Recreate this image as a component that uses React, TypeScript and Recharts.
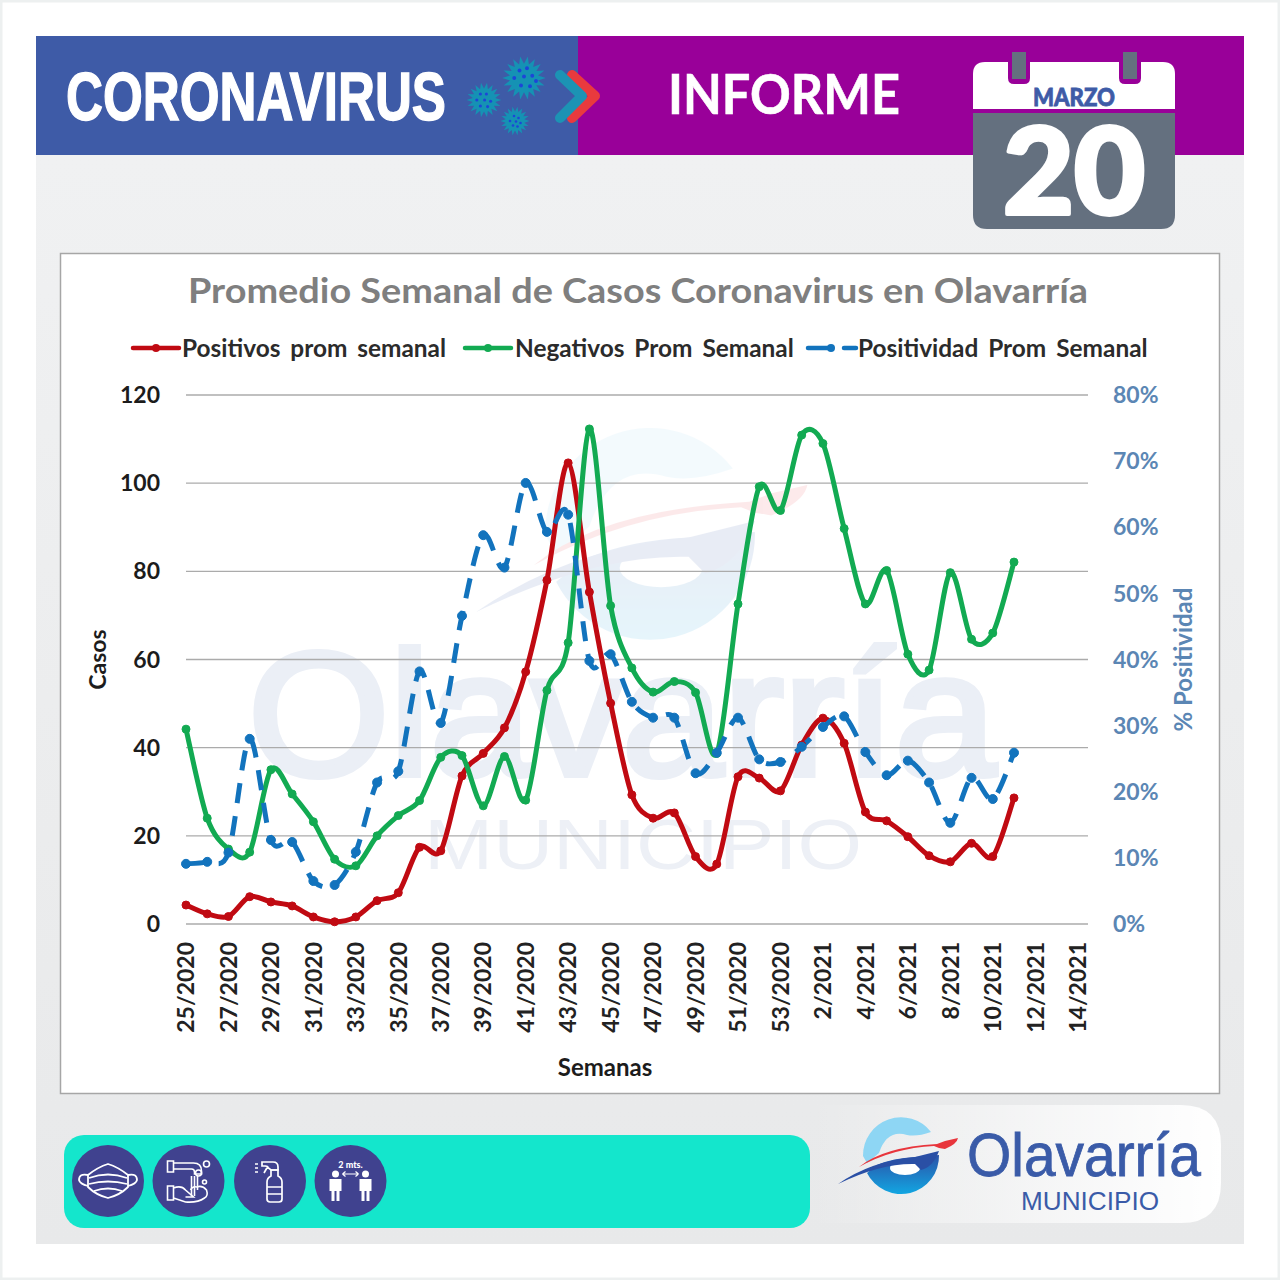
import React from 'react';
import { ComposedChart, Line, XAxis, YAxis, CartesianGrid, Legend } from 'recharts';

const weeks = [
  '25/2020','26/2020','27/2020','28/2020','29/2020','30/2020','31/2020','32/2020','33/2020','34/2020',
  '35/2020','36/2020','37/2020','38/2020','39/2020','40/2020','41/2020','42/2020','43/2020','44/2020',
  '45/2020','46/2020','47/2020','48/2020','49/2020','50/2020','51/2020','52/2020','53/2020','1/2021',
  '2/2021','3/2021','4/2021','5/2021','6/2021','7/2021','8/2021','9/2021','10/2021','11/2021',
  '12/2021','13/2021','14/2021',
];
const positivos = [4.3,2.3,1.7,6.2,5,4.1,1.6,0.5,1.6,5.3,7.1,17.4,16.6,33.6,38.7,44.5,57.2,78,104.6,75.3,50.1,29.3,24,25.2,15.3,13.6,33.4,33.1,30.2,40.6,46.7,41,25.4,23.4,19.8,15.5,14.1,18.3,15.3,28.6];
const negativos = [44.2,24,17,16.3,35,29.5,23.2,14.7,13.2,20,24.6,28,37.8,38.2,26.8,38,28.1,53,63.8,112.3,72.2,58.1,52.6,55,52.5,38.7,72.6,99.2,93.8,110.9,109,89.7,72.6,80.2,61.2,57.6,79.7,64.6,66,82.1];
const positividad = [9.1,9.4,10.8,28,12.7,12.4,6.5,5.9,10.9,21.4,23.1,38.2,30.4,46.6,58.8,53.9,66.7,59.3,61.9,39.8,40.8,33.6,31.2,31.2,22.8,25.9,31.2,24.9,24.5,26.8,29.8,31.4,26,22.5,24.7,21.4,15.3,22.1,18.9,25.9];
const casosTicks = [0,20,40,60,80,100,120];
const pctTicks = [0,10,20,30,40,50,60,70,80];

const rows = weeks.map((week, i) => ({ week, positivos: positivos[i], negativos: negativos[i], positividad: positividad[i] }));

const RED = '#c00a12';
const GREEN = '#12aa52';
const BLUE = '#1273bd';
const AXIS_BLUE = '#5b86b4';
const FONT = 'Lato, "Open Sans", sans-serif';

// Excel-style smoothed line (Catmull-Rom through every point).
function excelSmooth(context: any) {
  let pts: number[][] = [];
  const k = 6.5;
  return {
    areaStart() {},
    areaEnd() {},
    lineStart() { pts = []; },
    point(x: number, y: number) { pts.push([+x, +y]); },
    lineEnd() {
      if (!pts.length) return;
      context.moveTo(pts[0][0], pts[0][1]);
      for (let i = 0; i < pts.length - 1; i++) {
        const p0 = pts[Math.max(0, i - 1)], p1 = pts[i], p2 = pts[i + 1], p3 = pts[Math.min(pts.length - 1, i + 2)];
        context.bezierCurveTo(
          p1[0] + (p2[0] - p0[0]) / k, p1[1] + (p2[1] - p0[1]) / k,
          p2[0] - (p3[0] - p1[0]) / k, p2[1] - (p3[1] - p1[1]) / k,
          p2[0], p2[1]);
      }
    },
  };
}

const legendX = [[73, 122], [405, 455], [748, 798]];
function LegendContent({ payload }: any) {
  return (
    <div style={{ position: 'relative', height: 0 }}>
      {(payload || []).map((e: any, i: number) => (
        <React.Fragment key={e.value}>
          <svg style={{ position: 'absolute', left: legendX[i][0], top: -8, overflow: 'visible' }} width={50} height={16}>
            <line x1={0} x2={i === 2 ? 48 : 46} y1={8} y2={8} stroke={e.color} strokeWidth={4.5} strokeLinecap="round" strokeDasharray={i === 2 ? '24 12 12 30' : undefined} />
            <circle cx={23} cy={8} r={4} fill={e.color} />
          </svg>
          <span style={{ position: 'absolute', left: legendX[i][1], top: -16, whiteSpace: 'nowrap', fontFamily: FONT, fontSize: 24.4, fontWeight: 700, lineHeight: '32px', color: '#2b2b2b', wordSpacing: 4 }}>{e.value}</span>
        </React.Fragment>
      ))}
    </div>
  );
}

function XTick({ x, y, payload }: any) {
  return (
    <text x={x} y={y} dy="0.36em" textAnchor="end" transform={`rotate(-90 ${x} ${y})`} fontFamily={FONT} fontWeight={700} fontSize={23} fill="#222">
      {payload.value}
    </text>
  );
}

function Virus({ cx, cy, r, dots }: { cx: number; cy: number; r: number; dots: number[][] }) {
  const n = 18;
  const points: string[] = [];
  for (let i = 0; i < n * 2; i++) {
    const a = (Math.PI * i) / n;
    const rr = i % 2 ? r * 0.95 : r * 1.45;
    points.push(`${cx + rr * Math.cos(a)},${cy + rr * Math.sin(a)}`);
  }
  return (
    <g>
      <polygon points={points.join(' ')} fill="#1592b4" />
      {dots.map((d, i) => <circle key={i} cx={cx + d[0] * r} cy={cy + d[1] * r} r={r * 0.13} fill="#1c46d8" />)}
    </g>
  );
}

function LogoMark({ idp }: { idp: string }) {
  return (
    <g>
      <defs>
        <linearGradient id={idp + 'b'} x1="0" y1="0" x2="0" y2="1">
          <stop offset="0" stopColor="#2b52a8" />
          <stop offset="1" stopColor="#12a6e2" />
        </linearGradient>
      </defs>
      <path d="M-38,1 A38,38 0 0 1 30,-23 Q16,-18 6,-20 Q-14,-26 -22,-2 L-34,8 Z" fill="#8ed6f4" />
      <path d="M-24,10 Q-8,3 14,2 L38,0 A38,38 0 0 1 -34,18 Z" fill={`url(#${idp}b)`} />
      <ellipse cx="4" cy="13" rx="15" ry="7" fill="#fff" />
      <path d="M-63,29 Q-30,6 14,2 L38,-4 Q32,12 20,15 L14,9 Q-20,8 -63,29 Z" fill="#2a4fa5" />
      <path d="M-42,12 Q-18,-8 36,-11 L44,-14 L57,-17 Q56,-11 44,-6 L38,-7 L33,-9 Q-8,-7 -42,12 Z" fill="#e8353c" />
    </g>
  );
}

function Decor() {
  return (
    <svg width={1280} height={1280} style={{ position: 'absolute', left: 0, top: 0 }}>
      <defs>
        <linearGradient id="panel" x1="0" y1="0" x2="0" y2="1">
          <stop offset="0" stopColor="#f0f1f2" />
          <stop offset="1" stopColor="#e8e9ea" />
        </linearGradient>
        <linearGradient id="whitePanel" x1="0" y1="0" x2="1" y2="0">
          <stop offset="0" stopColor="#ffffff" stopOpacity={0} />
          <stop offset="0.6" stopColor="#ffffff" stopOpacity={0.6} />
          <stop offset="1" stopColor="#ffffff" />
        </linearGradient>
      </defs>
      <rect x={1} y={1} width={1278} height={1278} fill="#fff" stroke="#edf0f0" strokeWidth={3} />
      <rect x={36} y={155} width={1208} height={1089} fill="url(#panel)" />
      <rect x={36} y={36} width={542} height={119} fill="#3e5ba7" />
      <rect x={578} y={36} width={666} height={119} fill="#990099" />
      <text x={66} y={120} fill="#fff" stroke="#fff" strokeWidth={1.4} fontFamily='"Liberation Sans Narrow", "Liberation Sans", sans-serif' fontWeight={700} fontSize={68} textLength={380} lengthAdjust="spacingAndGlyphs">CORONAVIRUS</text>

      <Virus cx={524} cy={78} r={15} dots={[[-0.3,-0.5],[0.2,-0.65],[-0.65,0],[0,-0.1],[0.55,-0.15],[0.8,0.2],[-0.2,0.5],[0.4,0.55]]} />
      <Virus cx={484} cy={100} r={12} dots={[[-0.3,-0.5],[0.2,-0.5],[-0.6,0],[0.05,0],[0.55,0.1],[-0.3,0.5],[0.3,0.55]]} />
      <Virus cx={515} cy={121} r={10} dots={[[-0.1,-0.5],[0.35,-0.3],[-0.5,0],[0.1,0.05],[0.55,0.2],[-0.2,0.45],[0.25,0.55]]} />
      <path d="M572,75 L595,96 L572,118" fill="none" stroke="#e93a3e" strokeWidth={10} strokeLinecap="round" strokeLinejoin="round" />
      <path d="M560,75 L582,96 L560,118" fill="none" stroke="#1c93b4" strokeWidth={10} strokeLinecap="round" strokeLinejoin="round" />

      <text x={668} y={114} fill="#fff" stroke="#fff" strokeWidth={0.6} fontFamily='Lato, sans-serif' fontWeight={700} fontSize={55} textLength={232} lengthAdjust="spacingAndGlyphs">INFORME</text>

      <path d="M973,109 V74 Q973,62 985,62 H1163 Q1175,62 1175,74 V109 Z" fill="#fff" />
      <path d="M973,113 H1175 V215 Q1175,229 1161,229 H987 Q973,229 973,215 Z" fill="#64707f" />
      <path d="M1008,62 V78 Q1008,84 1014,84 H1024 Q1030,84 1030,78 V62 Z" fill="#990099" />
      <path d="M1119,62 V78 Q1119,84 1125,84 H1135 Q1141,84 1141,78 V62 Z" fill="#990099" />
      <rect x={1012} y={52} width={14} height={27} fill="#64707f" />
      <rect x={1123} y={52} width={14} height={27} fill="#64707f" />
      <text x={1003} y={214} fill="#fff" stroke="#fff" strokeWidth={4} strokeLinejoin="round" fontFamily='Lato, sans-serif' fontWeight={900} fontSize={120} textLength={142} lengthAdjust="spacingAndGlyphs">20</text>
      <text x={1033} y={106} fill="#3e5ba7" stroke="#3e5ba7" strokeWidth={0.8} fontFamily='Lato, sans-serif' fontWeight={900} fontSize={25} textLength={82} lengthAdjust="spacingAndGlyphs">MARZO</text>

      {/* chart frame + watermark */}
      <rect x={60.5} y={253.5} width={1159} height={840} fill="#fff" stroke="#a6a6a6" strokeWidth={1.5} />
      <g opacity={0.1} transform="translate(650 532) scale(2.76)"><LogoMark idp="wm" /></g>
      <text x={248} y={775} fill="#ebeff6" stroke="#ebeff6" strokeWidth={6} fontFamily='"Liberation Sans", sans-serif' fontSize={176} textLength={748} lengthAdjust="spacingAndGlyphs">Olavarría</text>
      <text x={424} y={869} fill="#edf0f6" fontFamily='"Liberation Sans", sans-serif' fontSize={70} textLength={438} lengthAdjust="spacingAndGlyphs">MUNICIPIO</text>

      <text x={188} y={303} fill="#7f7f7f" fontFamily={FONT} fontWeight={700} fontSize={35} textLength={900} lengthAdjust="spacingAndGlyphs">Promedio Semanal de Casos Coronavirus en Olavarría</text>

      {/* bottom strip */}
      <path d="M840,1105 H1181 Q1221,1105 1221,1145 V1183 Q1221,1223 1181,1223 H810 V1105 Z" fill="url(#whitePanel)" />
      <rect x={64} y={1135} width={746} height={93} rx={20} fill="#14e6cc" />
      {[108, 188.5, 270, 350.5].map((cx) => <circle key={cx} cx={cx} cy={1181} r={36} fill="#40428f" />)}

      <g transform="translate(108 1181)" fill="none" stroke="#fff" strokeWidth={1.8}>
        <path d="M-20,-6 Q-10,-14 0,-17 Q10,-14 20,-6 L20,6 Q12,14 0,17 Q-12,14 -20,6 Z" />
        <path d="M-19,-3 Q0,-10 19,-3 M-19,3 Q0,-2 19,3 M-14,10 Q0,5 14,10" />
        <path d="M-20,-6 Q-29,-8 -29,-1 Q-28,3 -20,5 M20,-6 Q29,-8 29,-1 Q28,3 20,5" />
      </g>
      <g transform="translate(188.5 1181)" fill="none" stroke="#fff" strokeWidth={1.6}>
        <path d="M-21,-20 h6 v11 h-6z M-15,-18 h20 q8,0 8,8 v3 h-7 v-2 q0,-3 -3,-3 h-18" />
        <path d="M3,-5 v20 M6,-5 v20 M9,-5 v14" />
        <circle cx={18} cy={-17} r={3} /><circle cx={10} cy={-8} r={3} /><circle cx={16} cy={1} r={2} />
        <path d="M-21,5 h6 v14 h-6z M-15,7 q8,-3 12,2 l8,7 h-8 M-15,17 l12,4 q12,1 19,-4 q4,-2 2,-8 q-4,-5 -10,-3 q-4,-1 -6,3" />
      </g>
      <g transform="translate(270 1181)" fill="none" stroke="#fff" strokeWidth={1.7}>
        <path d="M-3,1 q0,-4 4,-6 v-6 h7 v6 q4,2 4,6 v17 q0,3 -3,3 h-9 q-3,0 -3,-3 Z M-3,6 h15 M-3,13 h15" />
        <path d="M-8,-19 h11 q5,0 5,5 v3 h-7 l-5,-4 h-4 Z M-2,-15 l-4,7" />
        <path d="M-15,-17 h3 M-15,-13 h3 M-15,-9 h3" />
      </g>
      <g transform="translate(350.5 1181)" fill="#fff">
        <text x={0} y={-13} textAnchor="middle" fontFamily="Lato, sans-serif" fontWeight={900} fontSize={9}>2 mts.</text>
        <circle cx={-15} cy={-7} r={3.5} /><circle cx={15} cy={-7} r={3.5} />
        <path d="M-21,-2 h12 v12 h-2 v10 h-3 v-10 h-2 v10 h-3 v-10 h-2 Z M9,-2 h12 v12 h-2 v10 h-3 v-10 h-2 v10 h-3 v-10 h-2 Z" />
        <path d="M-8,-7 H8 M-8,-7 l3,-2.5 M-8,-7 l3,2.5 M8,-7 l-3,-2.5 M8,-7 l-3,2.5" stroke="#fff" fill="none" strokeWidth={1.2} />
      </g>

      <g transform="translate(901 1155)"><LogoMark idp="lg" /></g>
      <text x={967} y={1176} fill="#3a5ba8" stroke="#3a5ba8" strokeWidth={0.8} fontFamily='"Liberation Sans", sans-serif' fontSize={62} textLength={234} lengthAdjust="spacingAndGlyphs">Olavarría</text>
      <text x={1021} y={1210} fill="#3a5ba8" fontFamily='"Liberation Sans", sans-serif' fontSize={26} textLength={138} lengthAdjust="spacingAndGlyphs">MUNICIPIO</text>
    </svg>
  );
}

const leftTick = { fill: '#1c1c1c', fontFamily: FONT, fontWeight: 700, fontSize: 23 };
const rightTick = { fill: AXIS_BLUE, fontFamily: FONT, fontWeight: 700, fontSize: 23 };

export default function App() {
  return (
    <div style={{ position: 'absolute', left: 0, top: 0, width: 1280, height: 1280, overflow: 'hidden' }}>
      <Decor />
      <div style={{ position: 'absolute', left: 60, top: 253 }}>
        <ComposedChart width={1160} height={841} data={rows} margin={{ top: 142, right: 72, bottom: 60, left: 66 }}>
          <CartesianGrid horizontal vertical={false} stroke="#ababab" strokeWidth={1.3} yAxisId="casos" />
          <XAxis
            dataKey="week"
            interval={1}
            height={110}
            padding={{ left: 0, right: 10.3 }}
            axisLine={false}
            tickLine={false}
            tickSize={0}
            tickMargin={18}
            tick={<XTick />}
            label={{ value: 'Semanas', position: 'insideBottom', offset: -42, dx: -32, style: { fontFamily: FONT, fontWeight: 700, fontSize: 24, fill: '#1c1c1c' } }}
          />
          <YAxis
            yAxisId="casos"
            domain={[0, 120]}
            ticks={casosTicks}
            width={60}
            axisLine={false}
            tickLine={false}
            tickSize={0}
            tickMargin={26}
            tick={leftTick}
            label={{ value: 'Casos', angle: -90, position: 'insideLeft', dx: -33, style: { textAnchor: 'middle', fontFamily: FONT, fontWeight: 700, fontSize: 23, fill: '#1c1c1c' } }}
          />
          <YAxis
            yAxisId="pct"
            orientation="right"
            domain={[0, 80]}
            ticks={pctTicks}
            width={60}
            axisLine={false}
            tickLine={false}
            tickSize={0}
            tickMargin={25}
            tick={rightTick}
            tickFormatter={(v: number) => `${v}%`}
            label={{ value: '% Positividad', angle: -90, position: 'insideRight', dx: 40, style: { textAnchor: 'middle', fontFamily: FONT, fontWeight: 700, fontSize: 24, fill: AXIS_BLUE } }}
          />
          <Legend verticalAlign="top" itemSorter={null} content={<LegendContent />} wrapperStyle={{ left: 0, top: 95, width: 1160, height: 0 }} />
          <Line yAxisId="casos" name="Positivos prom semanal" dataKey="positivos" type={excelSmooth as any} stroke={RED} strokeWidth={5} dot={{ r: 4, fill: RED, stroke: RED, strokeWidth: 1 }} isAnimationActive={false} />
          <Line yAxisId="casos" name="Negativos Prom Semanal" dataKey="negativos" type={excelSmooth as any} stroke={GREEN} strokeWidth={5} dot={{ r: 4, fill: GREEN, stroke: GREEN, strokeWidth: 1 }} isAnimationActive={false} />
          <Line yAxisId="pct" name="Positividad Prom Semanal" dataKey="positividad" type={excelSmooth as any} stroke={BLUE} strokeWidth={5} strokeDasharray="20 13" dot={{ r: 4.5, fill: BLUE, stroke: BLUE, strokeWidth: 1, strokeDasharray: 'none' }} isAnimationActive={false} />
        </ComposedChart>
      </div>
    </div>
  );
}
